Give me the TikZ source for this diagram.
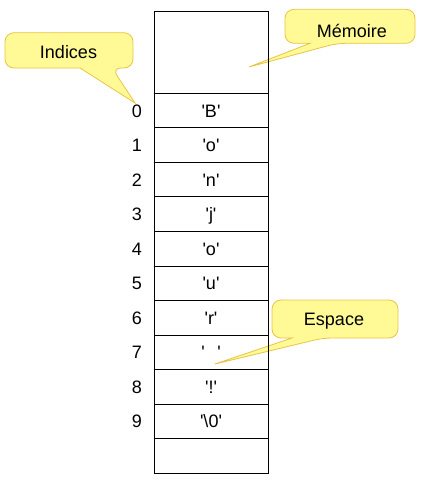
\documentclass[tikz,border=0pt]{standalone}
\usepackage{fontspec}
\setmainfont{Liberation Sans}[Ligatures=TeXOff]
\usetikzlibrary{positioning}
\definecolor{bubblefill}{RGB}{255,250,150}
\definecolor{bubbleline}{RGB}{232,196,70}
\tikzset{
  cell/.style={
    draw,
    line width=1pt,
    minimum width=114pt,
    minimum height=34.54pt,
    inner sep=0pt,
    outer sep=0pt,
    text height=12.9pt,
    text depth=0pt
  },
  index/.style={
    inner sep=0pt,
    text height=12.9pt,
    text depth=0pt
  },
  bubble/.style={
    fill=bubblefill,
    draw=bubbleline,
    line width=0.8pt
  },
  bubble text/.style={
    anchor=base,
    inner sep=0pt
  }
}

\begin{document}
\begin{tikzpicture}[x=1pt, y=-1pt, font=\fontsize{18}{21}\selectfont, node distance=0pt]
    \useasboundingbox (0,0) rectangle (430,480);

    % pointes des bulles
    \coordinate (indtip) at (135,103);
    \coordinate (memtip) at (249,67);
    \coordinate (esptip) at (215,364);

    % bulle "Indices"
    \draw[bubble] (5,50) [rounded corners=9pt] -- (5,32.7) -- (133,32.7) -- (133,68) -- (112,68)
      [sharp corners] -- (indtip) -- (80,68) [rounded corners=9pt] -- (5,68) -- cycle;
    \node[bubble text] (indices) at (68.5,58.3) {Indices};

    % bulle "Mémoire"
    \draw[bubble] (285,26) [rounded corners=9pt] -- (285,9.3) -- (415,9.3) -- (415,43.3) -- (337,43.3)
      [sharp corners] -- (memtip) -- (310,43.3) [rounded corners=9pt] -- (285,43.3) -- cycle;
    \node[bubble text] (memoire) at (352,37.7) {Mémoire};

    % bulle "Espace"
    \draw[bubble] (272,319) [rounded corners=9pt] -- (272,300) -- (398,300) -- (398,338) -- (323,338)
      [sharp corners] -- (esptip) -- (292,338) [rounded corners=9pt] -- (272,338) -- cycle;
    \node[bubble text] (espace) at (334,325) {Espace};

    % cases de la mémoire
    \node[cell, minimum height=81.6pt, anchor=north west] (top) at (154,11.7) {};
    \node[cell, below=of top] (c0) {'B'};
    \node[cell, below=of c0] (c1) {'o'};
    \node[cell, below=of c1] (c2) {'n'};
    \node[cell, below=of c2] (c3) {'j'};
    \node[cell, below=of c3] (c4) {'o'};
    \node[cell, below=of c4] (c5) {'u'};
    \node[cell, below=of c5] (c6) {'r'};
    \node[cell, below=of c6] (c7) {'\hspace{0.7em}'};
    \node[cell, below=of c7] (c8) {'!'};
    \node[cell, below=of c8] (c9) {'\textbackslash 0'};
    \node[cell, below=of c9] (c10) {};

    % indices
    \node[index, left=12pt of c0] (i0) {0};
    \node[index, left=12pt of c1] (i1) {1};
    \node[index, left=12pt of c2] (i2) {2};
    \node[index, left=12pt of c3] (i3) {3};
    \node[index, left=12pt of c4] (i4) {4};
    \node[index, left=12pt of c5] (i5) {5};
    \node[index, left=12pt of c6] (i6) {6};
    \node[index, left=12pt of c7] (i7) {7};
    \node[index, left=12pt of c8] (i8) {8};
    \node[index, left=12pt of c9] (i9) {9};

\end{tikzpicture}
\end{document}
